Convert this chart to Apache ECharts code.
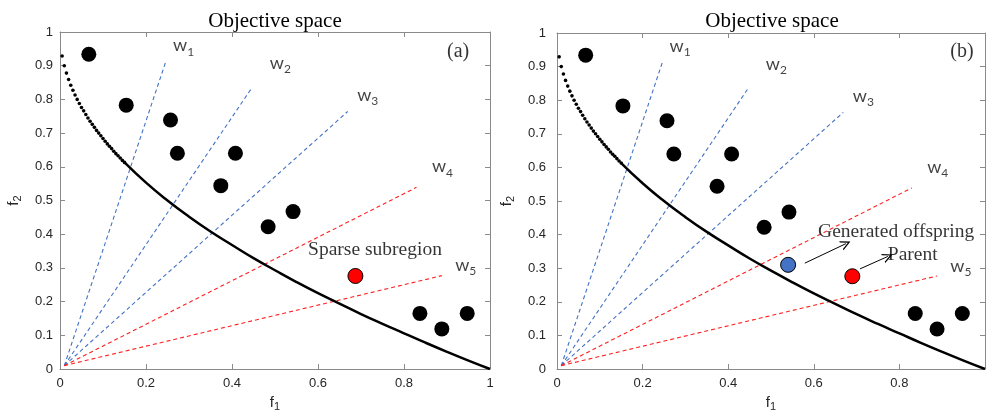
<!DOCTYPE html>
<html>
<head>
<meta charset="utf-8">
<script src="https://cdn.jsdelivr.net/npm/echarts@6/dist/echarts.min.js"></script>
<style>
html,body{margin:0;padding:0;background:#fff;}
#chart{width:986px;height:414px;}
</style>
</head>
<body>
<div id="chart"></div>
<script>
// ---- data ----
const xTickLabels = ['0','0.2','0.4','0.6','0.8','1'];
const yTickLabels = ['0','0.1','0.2','0.3','0.4','0.5','0.6','0.7','0.8','0.9','1'];
const solF1 = [0.067,0.154,0.257,0.273,0.408,0.374,0.542,0.484,0.837,0.888,0.947];
const solF2 = [0.934,0.783,0.739,0.640,0.640,0.544,0.467,0.422,0.165,0.119,0.165];
const sparsePoint = [0.687,0.276];
const offspringPoint = [0.540,0.310];
const parentPoint = [0.690,0.276];
const frontDotsF1 = [0.005,0.010,0.015,0.020,0.025,0.030,0.035,0.040,0.045,0.050,0.055,0.060,0.065,0.070,0.075,0.080,0.085,0.090,0.095,0.100,0.105,0.110,0.115,0.120,0.125,0.130,0.135,0.140,0.145,0.150];
const frontDotsF2 = [0.929,0.900,0.878,0.859,0.842,0.827,0.813,0.800,0.788,0.776,0.766,0.755,0.745,0.735,0.726,0.717,0.708,0.700,0.692,0.684,0.676,0.668,0.661,0.654,0.646,0.639,0.633,0.626,0.619,0.613];
const frontLineF1 = [0.15,0.20,0.25,0.30,0.35,0.40,0.45,0.50,0.55,0.60,0.65,0.70,0.75,0.80,0.85,0.90,0.95,1.00];
const frontLineF2 = [0.613,0.553,0.500,0.452,0.408,0.368,0.329,0.293,0.258,0.225,0.194,0.163,0.134,0.106,0.078,0.051,0.025,0.000];
const weightNames = ['1','2','3','4','5'];
const weightOrigin = [0.01,0.01];
const weightEndF1 = [0.246,0.447,0.669,0.829,0.888];
const weightEndF2 = [0.912,0.836,0.764,0.539,0.277];
const panelTags = ['(a)','(b)'];

// ---- styles ----
const serif = 'Liberation Serif';
const sans = 'Liberation Sans';
const axisGray = '#8a8a8a';
const blueDash = '#4472C4';
const redDash = '#FF2020';

function zip(a,b){ return a.map((v,i)=>[v,b[i]]); }

function labelSeries(xi, yi, pos, text, opts){
  opts = opts || {};
  return {
    type:'scatter', xAxisIndex:xi, yAxisIndex:yi, silent:true, symbolSize:0, z:20,
    data:[pos],
    label:Object.assign({show:true, position:'inside', formatter:text, color:'#000',
      fontFamily:serif, fontSize:19.5, align:'left', verticalAlign:'middle'}, opts)
  };
}

const wRich = {
  w:{fontFamily:'Lato', fontSize:18, color:'#111', verticalAlign:'top', lineHeight:18},
  s:{fontFamily:'Lato', fontSize:12, color:'#111', verticalAlign:'bottom', lineHeight:21}
};
const wLabelPos = [[0.263,0.955],[0.488,0.902],[0.691,0.807],[0.865,0.596],[0.919,0.303]];

function panelSeries(p){
  const xi = p*2, yi = p*2;
  const s = [];
  for(let i=0;i<weightNames.length;i++){
    s.push({type:'line', xAxisIndex:xi, yAxisIndex:yi, symbol:'none', silent:true, z:3,
      data:[weightOrigin,[weightEndF1[i],weightEndF2[i]]],
      lineStyle:{color: i<3?blueDash:redDash, width:1.1, type:[4,3]}});
    s.push(labelSeries(xi, yi, wLabelPos[i], '{w|w}{s|'+weightNames[i]+'}', {rich:wRich}));
  }
  s.push({type:'scatter', xAxisIndex:xi, yAxisIndex:yi, silent:true, symbolSize:3.6, z:4,
    data:zip(frontDotsF1,frontDotsF2), itemStyle:{color:'#000', opacity:1}});
  s.push({type:'line', xAxisIndex:xi, yAxisIndex:yi, silent:true, symbol:'none', smooth:true, z:4,
    data:zip(frontLineF1,frontLineF2), lineStyle:{color:'#000', width:2.5}});
  s.push({type:'scatter', xAxisIndex:xi, yAxisIndex:yi, silent:true, symbolSize:15, z:6,
    data:zip(solF1,solF2), itemStyle:{color:'#000', opacity:1}});
  s.push(labelSeries(xi, yi, p===0?[0.926,0.941]:[0.946,0.944], panelTags[p], {align:'center', fontSize:20}));
  return s;
}

const series = [].concat(panelSeries(0), panelSeries(1));
series.push({type:'scatter', xAxisIndex:0, yAxisIndex:0, silent:true, symbolSize:15, z:7,
  data:[sparsePoint], itemStyle:{color:'#FF0000', borderColor:'#000', borderWidth:1, opacity:1}});
series.push(labelSeries(0,0,[0.577,0.353],'Sparse subregion'));
series.push({type:'scatter', xAxisIndex:2, yAxisIndex:2, silent:true, symbolSize:15, z:7,
  data:[offspringPoint], itemStyle:{color:'#4472C4', borderColor:'#000', borderWidth:1, opacity:1}});
series.push({type:'scatter', xAxisIndex:2, yAxisIndex:2, silent:true, symbolSize:15, z:7,
  data:[parentPoint], itemStyle:{color:'#FF0000', borderColor:'#000', borderWidth:1, opacity:1}});
series.push(labelSeries(2,2,[0.610,0.409],'Generated offspring'));
series.push(labelSeries(2,2,[0.773,0.340],'Parent'));
const arrowHead = 'path://M5,0 L10,10 L8.6,10 L5,2.8 L1.4,10 L0,10 Z';
series.push({type:'lines', coordinateSystem:'cartesian2d', xAxisIndex:2, yAxisIndex:2, silent:true, z:8,
  symbol:['none',arrowHead], symbolSize:[0,10],
  lineStyle:{color:'#000', width:1, opacity:1},
  data:[{coords:[[0.579,0.315],[0.675,0.373]]},{coords:[[0.708,0.298],[0.773,0.335]]}]});

function xAx(g, top, hideMax){
  return {type:'value', gridIndex:g, position: top?'top':'bottom', min:0, max:1, interval:0.2,
    axisLine:{show:true, onZero:false, lineStyle:{color:axisGray, width:1}},
    axisTick:{show:true, inside:true, length:5, lineStyle:{color:axisGray}},
    axisLabel:{show:!top, color:'#262626', fontFamily:sans, fontSize:13, margin:8,
      showMaxLabel: !hideMax,
      formatter:function(v){ return xTickLabels[Math.round(v/0.2)]; }},
    splitLine:{show:false},
    name: top? '' : 'f{s|1}', nameLocation:'middle', nameGap:24,
    nameTextStyle:{color:'#262626', fontFamily:sans, fontSize:15,
      rich:{s:{fontSize:11, color:'#262626', fontFamily:sans, padding:[8,0,0,0]}}}
  };
}
function yAx(g, right, gap){
  return {type:'value', gridIndex:g, position: right?'right':'left', min:0, max:1, interval:0.1,
    axisLine:{show:true, onZero:false, lineStyle:{color:axisGray, width:1}},
    axisTick:{show:true, inside:true, length:5, lineStyle:{color:axisGray}},
    axisLabel:{show:!right, color:'#262626', fontFamily:sans, fontSize:13, margin:gap,
      formatter:function(v){ return yTickLabels[Math.round(v/0.1)]; }},
    splitLine:{show:false},
    name: right? '' : 'f{s|2}', nameLocation:'middle', nameGap:gap+30, nameRotate:90,
    nameTextStyle:{color:'#262626', fontFamily:sans, fontSize:15,
      rich:{s:{fontSize:11, color:'#262626', fontFamily:sans, padding:[8,0,0,0]}}}
  };
}

const option = {
  animation:false,
  backgroundColor:'#fff',
  title:[
    {text:'Objective space', left:270, top:6, textAlign:'center',
      textStyle:{fontFamily:serif, fontSize:21, fontWeight:'normal', color:'#000'}},
    {text:'Objective space', left:767, top:6, textAlign:'center',
      textStyle:{fontFamily:serif, fontSize:21, fontWeight:'normal', color:'#000'}}
  ],
  grid:[
    {left:60, top:32, width:430, height:337, outerBoundsMode:'none', containLabel:false},
    {left:557, top:33, width:428, height:336, outerBoundsMode:'none', containLabel:false}
  ],
  xAxis:[xAx(0,false,false), xAx(0,true,false), xAx(1,false,true), xAx(1,true,true)],
  yAxis:[yAx(0,false,7), yAx(0,true,7), yAx(1,false,11), yAx(1,true,11)],
  series:series
};
const chart = echarts.init(document.getElementById('chart'), null, {renderer:'canvas'});
chart.setOption(option);
</script>
</body>
</html>
